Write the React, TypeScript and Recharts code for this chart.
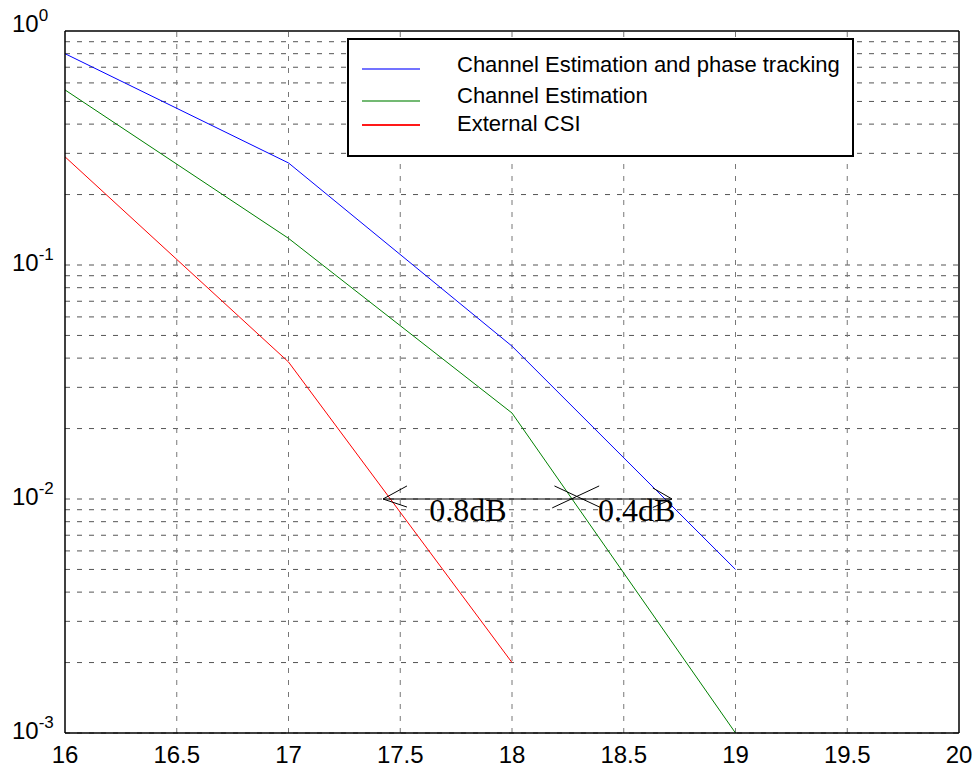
import React from 'react';
import { LineChart, Line, XAxis, YAxis, ReferenceLine, ReferenceDot } from 'recharts';

const snr = [16, 17, 18, 19];
const ceTracking = [0.8, 0.273, 0.045, 0.005];
const ceOnly = [0.56, 0.13, 0.0233, 0.001];
const externalCsi = [0.29, 0.0385, 0.002, null];

const xTicks = [16, 16.5, 17, 17.5, 18, 18.5, 19, 19.5, 20];
const yTicks = [0.001, 0.01, 0.1, 1];
const yExponents = ['-3', '-2', '-1', '0'];

const seriesNames = ['Channel Estimation and phase tracking', 'Channel Estimation', 'External CSI'];
const seriesColors = ['#0000ff', '#008000', '#ff0000'];

// gap annotation at BER 1e-2
const arrowY = 0.01;
const arrowFrom = 17.423;
const arrowTo = 18.716;
const gapLabels = [
    { x: 17.63, text: '0.8dB' },
    { x: 18.385, text: '0.4dB' },
];

const data = snr.map((x, i) => ({
    x,
    ceTracking: ceTracking[i],
    ceOnly: ceOnly[i],
    externalCsi: externalCsi[i],
}));

const gridY: number[] = [];
[0.001, 0.01, 0.1].forEach((d) => {
    for (let k = 1; k <= 9; k++) gridY.push(d * k);
});

const gridStroke = '#555';
const gridDash = '5 7';

function XTick(props: any) {
    const { x, y, payload } = props;
    return (
        <text x={x} y={y + 30} textAnchor="middle" fontFamily="Liberation Sans, Arial" fontSize={24} fill="#000">
            {payload.value}
        </text>
    );
}

function YTick(props: any) {
    const { x, y, payload } = props;
    const i = yTicks.indexOf(payload.value);
    const base = payload.value === 1 ? y + 1 : y + 6;
    return (
        <text x={x - 53} y={base} fontFamily="Liberation Sans, Arial" fill="#000">
            <tspan fontSize={24}>10</tspan>
            <tspan fontSize={17} dy={-11}>{yExponents[i]}</tspan>
        </text>
    );
}

function LegendBox() {
    return (
        <div
            style={{
                position: 'absolute',
                left: 347,
                top: 38,
                width: 503,
                height: 115,
                border: '2px solid #000',
                background: '#fff',
                fontFamily: 'Liberation Sans, Arial',
                fontSize: 22,
                color: '#000',
            }}
        >
            {seriesNames.map((name, i) => (
                <div key={name} style={{ position: 'absolute', left: 0, top: [12, 43, 71][i], height: 26, width: '100%' }}>
                    <div
                        style={{
                            position: 'absolute',
                            left: 13,
                            top: [16, 17, 13][i],
                            width: 58,
                            height: 2,
                            background: seriesColors[i],
                            opacity: i === 2 ? 0.9 : 0.55,
                        }}
                    />
                    <span style={{ position: 'absolute', left: 108, top: 0, lineHeight: '26px', whiteSpace: 'nowrap' }}>
                        {name}
                    </span>
                </div>
            ))}
        </div>
    );
}

export default function App() {
    return (
        <div style={{ position: 'absolute', left: 0, top: 0, width: 974, height: 770, background: '#fff' }}>
            <LineChart width={974} height={770} data={data} margin={{ top: 31, right: 15, left: 5, bottom: 7 }}>
                {gridY.map((v) => (
                    <ReferenceLine key={`gy-${v}`} y={v} stroke={gridStroke} strokeDasharray={gridDash} />
                ))}
                {xTicks.slice(1, -1).map((v) => (
                    <ReferenceLine key={`gx-${v}`} x={v} stroke="#777" strokeDasharray={gridDash} />
                ))}
                <XAxis
                    dataKey="x"
                    type="number"
                    domain={[16, 20]}
                    ticks={xTicks}
                    tick={<XTick />}
                    tickLine={false}
                    tickSize={0}
                    tickMargin={0}
                    height={30}
                    axisLine={{ stroke: '#000', strokeWidth: 1.5 }}
                />
                <YAxis
                    type="number"
                    scale="log"
                    domain={[0.001, 1]}
                    allowDataOverflow
                    ticks={yTicks}
                    tick={<YTick />}
                    tickLine={false}
                    tickSize={0}
                    tickMargin={0}
                    width={60}
                    axisLine={{ stroke: '#000', strokeWidth: 1.5 }}
                />
                <ReferenceLine y={1} stroke="#000" strokeWidth={1.5} />
                <ReferenceLine x={20} stroke="#000" strokeWidth={1.5} />

                <Line dataKey="ceTracking" name={seriesNames[0]} stroke={seriesColors[0]} strokeWidth={1} dot={false} isAnimationActive={false} />
                <Line dataKey="ceOnly" name={seriesNames[1]} stroke={seriesColors[1]} strokeWidth={1} dot={false} isAnimationActive={false} />
                <Line dataKey="externalCsi" name={seriesNames[2]} stroke={seriesColors[2]} strokeWidth={1} dot={false} isAnimationActive={false} />

                {/* 0.8dB / 0.4dB gap arrows */}
                <ReferenceLine segment={[{ x: arrowFrom, y: arrowY }, { x: arrowTo, y: arrowY }]} stroke="#000" />
                <ReferenceLine segment={[{ x: arrowFrom, y: arrowY }, { x: 17.53, y: 0.01137 }]} stroke="#000" />
                <ReferenceLine segment={[{ x: arrowFrom, y: arrowY }, { x: 17.53, y: 0.00924 }]} stroke="#000" />
                <ReferenceLine segment={[{ x: 18.18, y: 0.00916 }, { x: 18.39, y: 0.01137 }]} stroke="#000" />
                <ReferenceLine segment={[{ x: 18.19, y: 0.01137 }, { x: 18.4, y: 0.00916 }]} stroke="#000" />
                <ReferenceLine segment={[{ x: arrowTo, y: arrowY }, { x: 18.63, y: 0.01115 }]} stroke="#000" />
                <ReferenceLine segment={[{ x: arrowTo, y: arrowY }, { x: 18.63, y: 0.0092 }]} stroke="#000" />
                {gapLabels.map((l) => (
                    <ReferenceDot
                        key={l.text}
                        x={l.x}
                        y={arrowY}
                        r={0}
                        shape={(p: any) => (
                            <text x={p.cx} y={p.cy + 22} fontFamily="Liberation Serif, Times New Roman" fontSize={32} fill="#000">
                                {l.text}
                            </text>
                        )}
                    />
                ))}
            </LineChart>
            <LegendBox />
        </div>
    );
}
